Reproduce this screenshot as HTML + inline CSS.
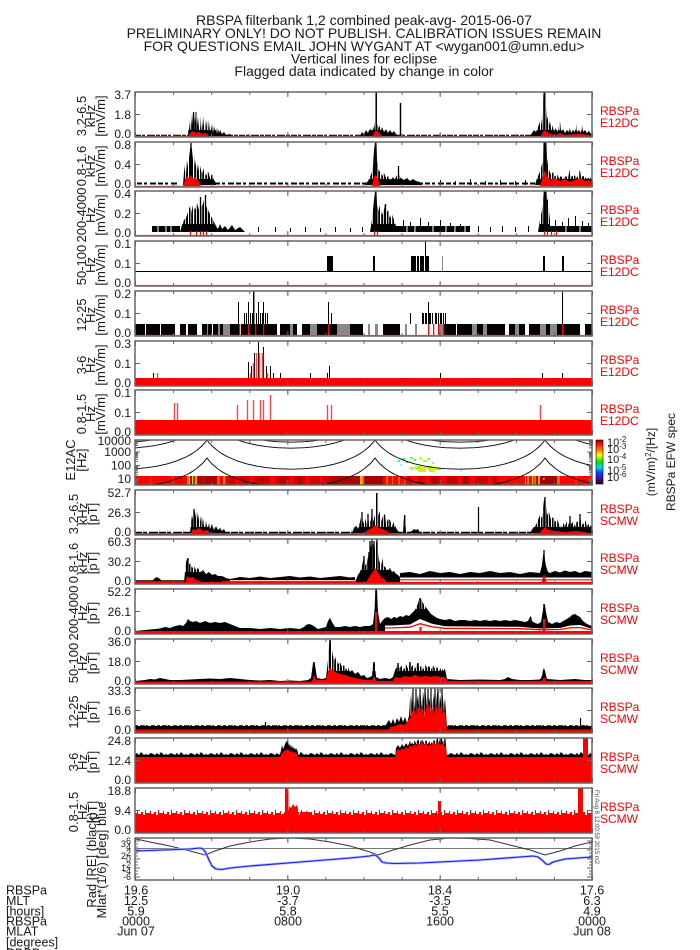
<!DOCTYPE html>
<html><head><meta charset="utf-8"><title>RBSPA filterbank</title>
<style>
html,body{margin:0;padding:0;background:#fff;width:700px;height:950px;overflow:hidden}
svg{display:block}
text{font-family:"Liberation Sans",Arial,sans-serif;fill:#1a1a1a}
.tm{stroke:#666;stroke-width:3;stroke-dasharray:1 37.083;fill:none}
.tM{stroke:#666;stroke-width:5;stroke-dasharray:1 151.333;fill:none}
.fr{fill:none;stroke:#666;stroke-width:1.5}
</style></head><body>
<svg xmlns="http://www.w3.org/2000/svg" xmlns:xlink="http://www.w3.org/1999/xlink" width="700" height="950" viewBox="0 0 700 950">
<defs>
<linearGradient id="cb" x1="0" y1="0" x2="0" y2="1">
<stop offset="0" stop-color="#a00000"/>
<stop offset="0.08" stop-color="#ff0000"/>
<stop offset="0.25" stop-color="#ff9000"/>
<stop offset="0.35" stop-color="#ffff00"/>
<stop offset="0.5" stop-color="#00e000"/>
<stop offset="0.62" stop-color="#00e0e0"/>
<stop offset="0.75" stop-color="#0040ff"/>
<stop offset="0.88" stop-color="#6000a0"/>
<stop offset="1" stop-color="#000000"/>
</linearGradient>
<clipPath id="spc"><rect x="135" y="440" width="457" height="45"/></clipPath>
<clipPath id="orc"><rect x="135" y="838" width="457" height="42"/></clipPath>
<pattern id="pz" x="135" y="750" width="20" height="8" patternUnits="userSpaceOnUse"><path d="M0 8V5L2 3L4 5L6 2L9 5L11 4L13 5L16 3L18 4L20 5V8Z" fill="#000"/></pattern>
<pattern id="pr" x="135" y="810" width="13" height="6" patternUnits="userSpaceOnUse"><path d="M0 6V3H2V1H3V4H6V2H8V5H10V0H11V3H13V6Z" fill="#f00"/></pattern>
<pattern id="comb" x="0" y="0" width="11" height="20" patternUnits="userSpaceOnUse"><rect x="1" y="0" width="1" height="20" fill="#fff"/><rect x="3.5" y="0" width="0.7" height="20" fill="#fff"/><rect x="6" y="0" width="1.2" height="20" fill="#fff"/><rect x="9" y="0" width="0.8" height="20" fill="#fff"/></pattern>
<path id="cB" fill="none" stroke="#000" stroke-width="0.9" d="M135 468.8 L147 467.7 L157 466.2 L167 463.9 L177 460.8 L187 456.5 L192 453.7 L197 450.2 L202 445.9 L205 442.6 L207 440 L209 442.6 L212 445.9 L217 450.2 L222 453.7 L227 456.5 L237 460.8 L247 463.9 L257 466.2 L267 467.7 L277 468.7 L291 469.2 L305 468.7 L315 467.7 L325 466.2 L335 463.9 L345 460.8 L355 456.5 L360 453.7 L365 450.2 L370 445.9 L373 442.6 L375 440 L377 442.6 L380 445.9 L385 450.2 L390 453.7 L395 456.5 L405 460.8 L415 463.9 L425 466.2 L435 467.7 L445 468.7 L460 469.2 L475 468.7 L485 467.7 L495 466.2 L505 463.9 L515 460.8 L525 456.5 L530 453.7 L535 450.2 L540 445.9 L543 442.6 L545 440 L547 442.6 L550 445.9 L555 450.2 L560 453.7 L565 456.5 L575 460.8 L585 463.9 L592 465.5"/>
</defs>
<rect width="700" height="950" fill="#fff"/>

<g font-size="14" text-anchor="middle">
<text x="364" y="25">RBSPA filterbank 1,2 combined peak-avg- 2015-06-07</text>
<text x="364" y="38">PRELIMINARY ONLY! DO NOT PUBLISH. CALIBRATION ISSUES REMAIN</text>
<text x="364" y="51">FOR QUESTIONS EMAIL JOHN WYGANT AT &lt;wygan001@umn.edu&gt;</text>
<text x="364" y="63.5">Vertical lines for eclipse</text>
<text x="364" y="76">Flagged data indicated by change in color</text>
</g>

<!-- ===== Panel 0 : E 3.2-6.5 kHz (92-137) ===== -->
<g>
<path d="M135 136.6H592" stroke="#f55" stroke-width="1.2"/>
<path d="M135 135.3H592" stroke="#000" stroke-width="1.2" stroke-dasharray="6 1 3 2 8 1 4 1"/>
<path fill="#000" d="M188 136 L189 120 L190 130 L191 114 L192 125 L193 112 L194 110 L195 122 L196 112 L197 126 L198 117 L199 128 L200 116 L201 130 L202 118 L203 127 L204 116 L205 131 L206 120 L207 128 L208 119 L209 132 L210 122 L211 130 L212 124 L213 133 L214 126 L215 131 L216 127 L217 134 L218 128 L219 133 L220 130 L222 134 L224 132 L226 135 L230 134 L232 136 Z"/>
<path fill="#000" d="M360 136 L362 132 L364 134 L366 130 L368 133 L370 128 L372 131 L373 126 L374 130 L375 122 L375.5 92.5 L376.8 92.5 L377 124 L379 128 L380 125 L381 130 L382 127 L384 132 L386 129 L388 133 L390 130 L392 133 L394 131 L396 134 L398 136 Z"/>
<path fill="#000" d="M530 136 L532 133 L534 130 L536 132 L538 127 L540 122 L541 118 L542 126 L543 100 L543.5 92.5 L545.5 92.5 L546 106 L547 120 L548 116 L549 125 L550 121 L551 128 L552 125 L554 131 L556 128 L558 132 L560 121 L561 131 L563 129 L565 133 L567 130 L569 132 L570 127 L571 133 L573 130 L575 132 L576 122 L577 132 L579 130 L581 133 L582 125 L583 132 L585 130 L587 133 L589 131 L591 134 L592 136 Z"/>
<rect x="188" y="92" width="45" height="38" fill="url(#comb)"/>
<rect x="360" y="92" width="38" height="38" fill="url(#comb)"/>
<rect x="530" y="92" width="62" height="38" fill="url(#comb)"/>
<path d="M376.2 136V92.5M400.5 136V103" stroke="#000" stroke-width="1.5"/>
<path d="M544.5 136V92.5" stroke="#000" stroke-width="2"/>
<path d="M193.5 136V112M196 136V112" stroke="#000" stroke-width="1"/>
<path fill="#f00" d="M188 137 L190 133 L193 131 L196 133 L199 132 L202 134 L206 133 L210 137 Z M372 137 L375 131 L377 131 L380 134 L383 137 Z M540 137 L543 132 L545 130 L547 132 L550 134 L556 135 L560 133 L565 135 L576 134 L582 134 L590 135 L592 137 Z"/>
</g>

<!-- ===== Panel 1 : E 0.8-1.6 kHz (142-187) ===== -->
<g>
<path d="M135 186.3H592" stroke="#f55" stroke-width="1.2"/>
<path d="M137 183.5H178M215 183.5H592" stroke="#000" stroke-width="2" stroke-dasharray="5 2 3 3 6 2"/>
<path fill="#000" d="M183 185 L184 172 L185 165 L186 175 L187 160 L188 168 L189 158 L190 150 L191 143 L192 150 L193 160 L194 155 L195 166 L196 160 L197 170 L198 164 L199 172 L200 166 L202 174 L204 168 L206 176 L208 171 L210 178 L212 174 L214 180 L216 183 L216 185 Z"/>
<path fill="#000" d="M365 185 L368 181 L370 177 L372 172 L373 166 L374 150 L375 142.5 L376.5 142.5 L377 160 L378 168 L379 172 L380 170 L382 176 L384 173 L386 178 L388 176 L390 180 L392 177 L395 179 L397 175 L398 166 L399 175 L401 178 L404 180 L407 178 L410 181 L413 179 L416 181 L420 182 L422 185 Z"/>
<path fill="#000" d="M535 185 L537 178 L539 174 L541 168 L543 160 L543.5 142.5 L546.5 142.5 L547 158 L548 165 L549 170 L551 175 L553 172 L555 177 L557 174 L559 178 L561 176 L563 179 L566 176 L568 178 L570 169 L571 177 L574 175 L577 178 L580 170 L581 177 L584 176 L587 179 L590 177 L592 180 L592 185 Z"/>
<rect x="183" y="142" width="34" height="37" fill="url(#comb)"/>
<rect x="365" y="142" width="58" height="37" fill="url(#comb)"/>
<rect x="535" y="142" width="57" height="37" fill="url(#comb)"/>
<path d="M375.7 182V142.5M191 182V143M398.5 182V166" stroke="#000" stroke-width="1.3"/>
<path d="M545 182V142.5" stroke="#000" stroke-width="2.5"/>
<path d="M440.5 185V180M455.5 185V181M470.5 185V179M485.5 185V181M500.5 185V180M515.5 185V181M525.5 185V180" stroke="#000" stroke-width="1"/>
<path fill="#f00" d="M183 186 L185 180 L187 176 L189 178 L191 175 L193 179 L195 177 L197 180 L199 182 L201 186 Z M372 186 L374 177 L376 175 L378 178 L380 186 Z M540 186 L543 176 L545 170 L547 176 L550 180 L555 178 L560 181 L565 179 L570 182 L575 180 L580 178 L585 181 L590 180 L592 186 Z"/>
</g>

<!-- ===== Panel 2 : E 200-4000 Hz (191-236) ===== -->
<g>
<path d="M135 235.5H592" stroke="#f55" stroke-width="1.2"/>
<rect x="152" y="226" width="28" height="6" fill="#000"/>
<path d="M158 226V232M166 226V232M171 226V232" stroke="#fff" stroke-width="1"/>
<path fill="#000" d="M180 232 L182 225 L184 220 L186 218 L188 212 L190 206 L191 214 L193 205 L195 210 L197 203 L199 210 L200 197 L201 207 L203 204 L205 195 L206 206 L208 210 L210 214 L212 218 L214 222 L216 226 L218 229 L220 224 L222 229 L225 226 L228 230 L232 225 L235 230 L240 227 L245 232 Z"/>
<path d="M258.5 232V227M275.5 232V227M290.5 232V228M305.5 232V227M320.5 232V228M335.5 232V227M350.5 232V228M362.5 232V227M478.5 232V226M490.5 232V227M502.5 232V226M515.5 232V227M528.5 232V226" stroke="#000" stroke-width="1"/>
<path fill="#000" d="M370 232 L372 220 L374 200 L375 191.5 L376.5 191.5 L377 205 L378 212 L380 205 L382 215 L384 210 L385 204 L386 214 L388 210 L390 218 L392 214 L394 220 L396 226 L396 232 Z"/>
<rect x="396" y="226" width="74" height="6" fill="#000"/>
<path d="M403.5 226V220M410.5 226V222M420.5 226V218M428.5 226V222M440.5 226V220M450.5 226V223M460.5 226V224M555.5 226V220M562.5 226V222M568.5 226V218M575.5 226V216M582.5 226V221M588.5 226V223" stroke="#000" stroke-width="1"/>
<path fill="#000" d="M538 232 L540 220 L542 210 L543.5 195 L544 191.5 L546.5 191.5 L547 200 L548 199 L549 212 L550 220 L550 232 Z"/>
<rect x="550" y="226" width="42" height="6" fill="#000"/>
<rect x="180" y="191" width="66" height="33" fill="url(#comb)"/>
<rect x="370" y="191" width="26" height="33" fill="url(#comb)"/>
<rect x="538" y="191" width="12" height="33" fill="url(#comb)"/>
<path d="M375.7 226V191.5M200.5 226V197M205.5 226V195M385.5 226V204" stroke="#000" stroke-width="1.3"/>
<path d="M545 226V191.5" stroke="#000" stroke-width="2.5"/>
<path d="M407 226V232M415 226V232M433 226V232M446 226V232M455 226V232M465 226V232M566 226V232M580 226V232" stroke="#fff" stroke-width="1"/>
<path d="M190.5 236V231M196.5 236V231M200.5 236V231M203.5 236V231M206.5 236V231M374.5 236V231M377.5 236V231M544.5 236V231M547.5 236V231M551.5 236V231M556.5 236V231" stroke="#f00" stroke-width="1.2"/>
</g>

<!-- ===== Panel 3 : E 50-100 Hz (241-286) ===== -->
<g>
<path d="M135 271.5H592" stroke="#000" stroke-width="1"/>
<path d="M135 285.5H592" stroke="#f66" stroke-width="1.2"/>
<path fill="#000" d="M327 256h6v15h-6zM373 256h2v15h-2zM411 256h5v15h-5zM417 256h2v15h-2zM420 256h4v15h-4zM425 256h4v15h-4zM543 256h2v15h-2zM562 256h2v15h-2z"/>
<path d="M425.5 256V241.5" stroke="#000" stroke-width="1"/>
<path d="M442.5 271V256" stroke="#888" stroke-width="1"/>
</g>

<!-- ===== Panel 4 : E 12-25 Hz (291-336) ===== -->
<g>
<rect x="135" y="324" width="457" height="11" fill="#000"/>
<path fill="#fff" d="M145 324h1v11h-1zM160 324h1v11h-1zM175 324h5v11h-5zM186 324h2v11h-2zM197 324h5v11h-5zM212 324h1v11h-1zM240 324h1v11h-1zM277 324h3v11h-3zM297 324h5v11h-5zM363 324h20v11h-20zM400 324h28v11h-28zM429 324h4v11h-4zM434 324h4v11h-4zM456 324h1v11h-1zM505 324h4v11h-4zM525 324h4v11h-4zM580 324h5v11h-5z"/>
<path fill="#888" d="M207 324h1v11h-1zM218 324h2v11h-2zM223 324h7v11h-7zM290 324h3v11h-3zM310 324h7v11h-7zM337 324h13v11h-13zM368 324h2v11h-2zM375 324h3v11h-3zM405 324h2v11h-2zM415 324h2v11h-2zM439 324h4v11h-4zM472 324h5v11h-5zM483 324h4v11h-4zM515 324h4v11h-4zM540 324h6v11h-6zM550 324h7v11h-7z"/>
<path fill="#f00" d="M239 324h1.3v11h-1.3zM248 324h1.3v11h-1.3zM255 324h1.3v11h-1.3zM263 324h1.3v11h-1.3zM328 324h1.3v11h-1.3zM428 324h1.3v11h-1.3zM433 324h1.3v11h-1.3zM438 324h1.3v11h-1.3zM443 324h1.3v11h-1.3zM562 324h1.3v11h-1.3z"/>
<path d="M238.5 324V302M248.5 324V302M253.5 324V291.5M258.5 324V302M263.5 324V302M328.5 324V302M331.5 324V313M410.5 324V313M428.5 324V302M562.5 324V291.5M244.5 324V313M246.5 324V313M250.5 324V313M252.5 324V313M256.5 324V313M260.5 324V313M262.5 324V313M265.5 324V313M267.5 324V313M422.5 324V313M423.5 324V313M425.5 324V313M426.5 324V313M429.5 324V313M430.5 324V313M432.5 324V313M435.5 324V313M436.5 324V313M438.5 324V313M440.5 324V313M441.5 324V313M443.5 324V313M445.5 324V313" stroke="#000" stroke-width="1"/>
<path d="M254.5 324V291.5" stroke="#888" stroke-width="1"/>
<path d="M135 335.5H592" stroke="#f66" stroke-width="1.2"/>
</g>

<!-- ===== Panel 5 : E 3-6 Hz (341-386) ===== -->
<g>
<rect x="135" y="378" width="457" height="8" fill="#f00"/>
<path d="M153.5 378V373M248.5 378V362M251.5 378V366M254.5 378V353M258.5 378V342M263.5 378V347M266.5 378V366M270.5 378V366M273.5 378V373M280.5 378V373M310.5 378V373M327.5 378V373M329.5 378V366M440.5 378V373M542.5 378V373M562.5 378V373" stroke="#000" stroke-width="1"/>
<path d="M157.5 378V373M250.5 378V373M253.5 378V363M256.5 378V353M259.5 378V353M262.5 378V353M267.5 378V373" stroke="#f44" stroke-width="1.5"/>
</g>

<!-- ===== Panel 6 : E 0.8-1.5 Hz (390-435) ===== -->
<g>
<rect x="135" y="420" width="457" height="15" fill="#f00"/>
<path d="M174.5 420V403M177.5 420V403M237.5 420V405M247.5 420V400M253.5 420V400M260.5 420V400M263.5 420V400M270.5 420V395M327.5 420V405M331.5 420V405M540.5 420V405" stroke="#f44" stroke-width="1.4"/>
</g>

<!-- ===== Panel 7 : spectrogram (440-485) ===== -->
<g clip-path="url(#spc)">
<rect x="135" y="476" width="52" height="9" fill="#ff0000"/>
<rect x="150" y="476" width="1" height="9" fill="#ff4000"/>
<rect x="163" y="476" width="1" height="9" fill="#e00000"/>
<rect x="172" y="476" width="2" height="9" fill="#ff3000"/>
<rect x="180" y="476" width="1" height="9" fill="#d00000"/>
<rect x="187" y="476" width="2" height="9" fill="#ff8000"/>
<rect x="189" y="476" width="1" height="9" fill="#ffd000"/>
<rect x="190" y="476" width="2" height="9" fill="#c00000"/>
<rect x="192" y="476" width="1" height="9" fill="#90ff00"/>
<rect x="193" y="476" width="2" height="9" fill="#ff0000"/>
<rect x="195" y="476" width="2" height="9" fill="#ffb000"/>
<rect x="197" y="476" width="20" height="9" fill="#b00000"/>
<rect x="203" y="476" width="1" height="9" fill="#ff0000"/>
<rect x="217" y="476" width="3" height="9" fill="#ff5000"/>
<rect x="220" y="476" width="3" height="9" fill="#ff0000"/>
<rect x="223" y="476" width="2" height="9" fill="#ff9000"/>
<rect x="225" y="476" width="2" height="9" fill="#ff0000"/>
<rect x="227" y="476" width="103" height="9" fill="#d00000"/>
<rect x="235" y="476" width="4" height="9" fill="#ff0000"/>
<rect x="250" y="476" width="3" height="9" fill="#ff0000"/>
<rect x="260" y="476" width="4" height="9" fill="#b00000"/>
<rect x="270" y="476" width="5" height="9" fill="#ff0000"/>
<rect x="280" y="476" width="5" height="9" fill="#b00000"/>
<rect x="290" y="476" width="3" height="9" fill="#ff0000"/>
<rect x="298" y="476" width="4" height="9" fill="#b00000"/>
<rect x="305" y="476" width="4" height="9" fill="#ff0000"/>
<rect x="320" y="476" width="2" height="9" fill="#ff0000"/>
<rect x="330" y="476" width="30" height="9" fill="#b00000"/>
<rect x="360" y="476" width="1" height="9" fill="#ffd000"/>
<rect x="361" y="476" width="1" height="9" fill="#80ff00"/>
<rect x="362" y="476" width="1" height="9" fill="#ff8000"/>
<rect x="363" y="476" width="1" height="9" fill="#00c0ff"/>
<rect x="364" y="476" width="19" height="9" fill="#a80000"/>
<rect x="383" y="476" width="24" height="9" fill="#ff0000"/>
<rect x="386" y="476" width="2" height="9" fill="#ff6000"/>
<rect x="392" y="476" width="1" height="9" fill="#ff6000"/>
<rect x="398" y="476" width="2" height="9" fill="#ff6000"/>
<rect x="404" y="476" width="1" height="9" fill="#ff6000"/>
<rect x="407" y="476" width="90" height="9" fill="#c80000"/>
<rect x="412" y="476" width="5" height="9" fill="#ff0000"/>
<rect x="425" y="476" width="4" height="9" fill="#ff0000"/>
<rect x="432" y="476" width="4" height="9" fill="#a80000"/>
<rect x="440" y="476" width="6" height="9" fill="#ff0000"/>
<rect x="458" y="476" width="4" height="9" fill="#ff0000"/>
<rect x="463" y="476" width="4" height="9" fill="#a80000"/>
<rect x="470" y="476" width="5" height="9" fill="#ff0000"/>
<rect x="488" y="476" width="4" height="9" fill="#ff0000"/>
<rect x="497" y="476" width="26" height="9" fill="#ff0000"/>
<rect x="523" y="476" width="17" height="9" fill="#ff0000"/>
<rect x="525" y="476" width="1" height="9" fill="#ffd000"/>
<rect x="527" y="476" width="2" height="9" fill="#ff8000"/>
<rect x="532" y="476" width="1" height="9" fill="#ffe000"/>
<rect x="534" y="476" width="2" height="9" fill="#ff6000"/>
<rect x="536" y="476" width="2" height="9" fill="#c00000"/>
<rect x="538" y="476" width="2" height="9" fill="#ffa000"/>
<rect x="540" y="476" width="17" height="9" fill="#a80000"/>
<rect x="557" y="476" width="3" height="9" fill="#ff6000"/>
<rect x="560" y="476" width="32" height="9" fill="#ff0000"/>
<rect x="575" y="476" width="2" height="9" fill="#ff3000"/>
<rect x="410" y="467" width="4" height="3" fill="#c0ff00"/>
<rect x="415" y="466" width="6" height="4" fill="#a0ff20"/>
<rect x="421" y="467" width="5" height="3" fill="#ffe000"/>
<rect x="427" y="466" width="6" height="4" fill="#c0ff00"/>
<rect x="433" y="467" width="4" height="3" fill="#e0ff00"/>
<rect x="438" y="468" width="3" height="2" fill="#80ff40"/>
<rect x="418" y="470" width="8" height="2" fill="#ffe000"/>
<rect x="429" y="470" width="6" height="2" fill="#c0ff00"/>
<rect x="398" y="460" width="2" height="2" fill="#00ffe0"/>
<rect x="402" y="458" width="3" height="2" fill="#40ff80"/>
<rect x="406" y="461" width="2" height="2" fill="#00e0ff"/>
<rect x="410" y="457" width="3" height="2" fill="#80ff40"/>
<rect x="414" y="459" width="2" height="2" fill="#00ffe0"/>
<rect x="419" y="457" width="3" height="3" fill="#e0ff00"/>
<rect x="423" y="460" width="4" height="2" fill="#c0ff00"/>
<rect x="428" y="458" width="2" height="2" fill="#40ff80"/>
<rect x="400" y="464" width="2" height="2" fill="#80ffff"/>
<rect x="432" y="462" width="2" height="2" fill="#80ff80"/>
<rect x="190" y="455" width="1.5" height="1.5" fill="#80ffff"/>
<rect x="257" y="470" width="1.5" height="1.5" fill="#80e0ff"/>
<rect x="330" y="465" width="1.5" height="1.5" fill="#80ffff"/>
<rect x="375" y="452" width="1.5" height="1.5" fill="#c0ffc0"/>
<rect x="543" y="478" width="1.5" height="1.5" fill="#80ffff"/>
<rect x="383" y="468" width="1.5" height="1.5" fill="#80ffe0"/>
<rect x="450" y="462" width="1.5" height="1.5" fill="#a0ffff"/>
<rect x="460" y="470" width="1.5" height="1.5" fill="#80ffff"/>
<use xlink:href="#cB" href="#cB"/>
<use xlink:href="#cB" href="#cB" transform="translate(0,18)"/>
<use xlink:href="#cB" href="#cB" transform="translate(0,-21)"/>
<use xlink:href="#cB" href="#cB" transform="translate(0,-27)"/>
</g>

<!-- ===== Panel 8 : SCMW 3.2-6.5 kHz (490-535) ===== -->
<g>
<path d="M135 532.5H592" stroke="#000" stroke-width="1.5" stroke-dasharray="7 1 4 2 9 1"/>
<path d="M135 534H592" stroke="#f00" stroke-width="1.5"/>
<path fill="#000" d="M190 533 L191 522 L192 515 L193 520 L194 509 L195 512 L196 518 L197 511 L198 520 L199 514 L200 522 L201 516 L202 524 L203 518 L204 526 L205 520 L206 527 L207 521 L208 528 L209 523 L210 529 L212 524 L214 530 L216 526 L218 530 L220 528 L222 531 L224 529 L226 533 Z"/>
<path fill="#000" d="M352 533 L354 528 L356 525 L358 529 L360 522 L362 512 L363 524 L365 518 L367 526 L368 514 L369 524 L371 520 L372 509 L373 522 L375 515 L376 493 L377.5 493 L378 516 L380 511 L381 522 L383 516 L385 514 L386 524 L388 519 L390 520 L392 526 L394 522 L396 528 L398 531 L400 533 L403 533 L404 516 L405.5 515 L406 533 L412 531 L414 529 L416 530 L418 529 L420 533 Z"/>
<path fill="#000" d="M530 533 L533 528 L536 525 L538 520 L540 515 L542 518 L543 508 L544 500 L545 497 L546 505 L547 515 L549 512 L551 520 L553 517 L555 522 L557 519 L559 524 L561 528 L563 523 L565 526 L567 521 L569 525 L570 516 L571 524 L573 522 L575 526 L577 521 L579 524 L580 514 L581 522 L583 525 L585 520 L587 526 L589 524 L592 527 L592 533 Z"/>
<rect x="190" y="490" width="36" height="37" fill="url(#comb)"/>
<rect x="352" y="490" width="68" height="37" fill="url(#comb)"/>
<rect x="530" y="490" width="62" height="37" fill="url(#comb)"/>
<path d="M376.7 531V493M545 531V497M194 531V509M372 531V509M368 531V514M404.7 531V515M580 531V514M570 531V516M362 531V512" stroke="#000" stroke-width="1.3"/>
<path d="M478.5 533V507" stroke="#000" stroke-width="1.2"/>
<path fill="#f00" d="M190 535 L193 529 L196 530 L199 528 L203 531 L207 530 L212 535 Z M362 535 L368 530 L372 528 L376 525 L379 528 L385 530 L392 535 Z M538 535 L542 530 L545 527 L548 530 L555 531 L565 532 L575 531 L585 532 L592 535 Z"/>
</g>

<!-- ===== Panel 9 : SCMW 0.8-1.6 kHz (539-584) ===== -->
<g>
<path d="M135 581H184" stroke="#000" stroke-width="1.5"/>
<path fill="#000" d="M152 581 L155 578 L157 577 L160 579 L162 581 Z"/>
<path fill="#000" d="M184 582 L186 562 L187 559 L188 558 L189 565 L190 563 L192 568 L194 566 L196 570 L198 568 L200 572 L203 570 L206 574 L209 572 L212 575 L215 574 L218 576 L222 576 L226 578 L230 579 L230 582 Z"/>
<path fill="#000" d="M230 580 L230 579 L240 577 L250 578 L260 576.5 L270 578 L280 577 L290 576 L300 577.5 L310 576.5 L320 578 L330 577 L340 576 L350 577.5 L355 577 L355 580 Z"/>
<path fill="#000" d="M355 582 L358 575 L360 572 L362 566 L364 556 L365 566 L367 562 L369 552 L370 541 L371 548 L372 539.5 L373 545 L374 541 L375 550 L376 543 L377 539.5 L378 552 L379 560 L381 566 L383 558 L384 566 L386 568 L388 570 L390 568 L392 572 L394 571 L396 574 L398 575 L400 577 L400 582 Z"/>
<path fill="#000" d="M400 577.5 L400 573 L410 572 L420 574 L430 571 L440 573 L450 572 L460 574 L470 572 L480 573 L490 571 L500 573 L510 572 L520 574 L530 572 L540 573 L542 565 L543 556 L544 550 L545 560 L546 566 L548 572 L550 573 L555 571 L560 572.5 L565 570.5 L570 572 L575 571 L580 573 L585 571 L592 572 L592 577.5 Z"/>
<rect x="184" y="539" width="46" height="33" fill="url(#comb)"/>
<rect x="355" y="539" width="45" height="31" fill="url(#comb)"/>
<path d="M372 578V539.5M377 578V539.5M370 578V541M374 578V541M188 578V558M544 576V550M364 578V556M369 578V552" stroke="#000" stroke-width="1.3"/>
<path d="M222 581.3H355M400 579.8H592" stroke="#f00" stroke-width="1.2"/>
<rect x="135" y="582" width="457" height="2" fill="#f00"/>
<path fill="#f00" d="M365 584 L370 576 L373 572 L375 568 L377 571 L380 576 L385 580 L388 584 Z M185 584 L187 576 L190 578 L193 577 L196 580 L200 581 L202 584 Z M541 584 L544 574 L547 584 Z"/>
</g>

<!-- ===== Panel 10 : SCMW 200-4000 Hz (589-634) ===== -->
<g>
<path fill="#000" d="M135 632 L135 631 L145 630 L155 629 L160 628.5 L165 627 L170 628 L175 626 L180 625 L183 626 L186 623 L188 619 L190 621 L193 622 L196 621 L200 623 L205 621 L210 623 L215 622 L220 623 L225 622 L230 624 L235 626 L240 628 L250 628 L260 629 L270 628 L280 629 L290 628 L300 629 L304 627 L306 625 L309 624 L312 625 L315 627 L318 629 L322 628 L326 627 L328 621 L330 618 L332 622 L335 627 L340 627 L345 626 L350 627 L355 626 L360 627 L365 626 L370 626 L373 624 L374.5 610 L375.5 589.5 L377 589.5 L378 612 L380 624 L383 620 L385 618 L388 617 L391 619 L394 617 L397 618 L400 616 L403 617 L406 615 L409 616 L412 613 L415 610 L417 606 L419 600 L420 598 L421 599 L423 603 L425 606 L428 610 L431 614 L434 616 L437 618 L440 619 L445 620 L450 619 L455 621 L460 620 L465 620 L470 621 L475 620 L480 621 L485 620 L490 621 L495 620 L500 621 L505 620 L510 621 L515 620 L520 621 L525 622 L528 621 L530 617 L531 616 L532 621 L535 623 L538 624 L541 622 L543 610 L544 604 L545 605 L546 612 L548 622 L552 624 L556 622 L560 623 L565 620 L570 617 L572 615 L575 614 L578 616 L580 617 L583 621 L587 624 L592 626 L592 629 L580 625 L570 625.5 L560 628 L540 628.5 L530 627.7 L520 626.8 L445 626.2 L432 623.8 L420 619 L410 624.5 L392 625.5 L385 625.5 L385 632 Z"/>
<rect x="400" y="589" width="40" height="20" fill="url(#comb)"/>
<path d="M376 630V589.5" stroke="#000" stroke-width="1.5"/>
<path d="M420 616V598M544 622V604" stroke="#000" stroke-width="1.5"/>
<path d="M385 628 L392 627.9 L410 627.2 L420 623.7 L432 626.8 L445 628.3 L520 628.7 L530 629.2 L540 629.8 L560 629.5 L572 627.6 L580 627.6 L592 630" fill="none" stroke="#f00" stroke-width="1.3"/>
<rect x="135" y="631" width="457" height="3" fill="#f00"/>
<path d="M376 634V612M544 634V619M420.5 634V627" stroke="#f00" stroke-width="2"/>
</g>

<!-- ===== Panel 11 : SCMW 50-100 Hz (639-684) ===== -->
<g>
<path fill="#000" d="M135 682 L135 681 L145 680 L150 679 L155 679.5 L160 678 L165 679 L170 680 L180 680 L190 679.5 L200 679 L210 678.5 L220 679 L230 678 L240 679 L250 680 L260 680.5 L270 680 L280 681 L290 680.5 L300 681 L308 680 L311 678 L313 663 L314 662 L315 665 L317 678 L322 679 L326 678 L328 660 L329 645 L330 640 L331 641 L332 650 L333 656 L334 661 L336 657 L338 664 L340 662 L342 667 L344 665 L346 670 L348 667 L350 672 L352 670 L355 674 L358 672 L361 676 L364 675 L367 678 L370 677 L372 676 L373 664 L374 662 L375 664 L376 677 L380 679 L385 678 L390 679 L393 677 L395 670 L397 667 L398 663 L399 668 L402 666 L404 670 L406 664 L408 669 L410 662 L411 667 L413 665 L415 669 L417 664 L418 663 L419 668 L421 666 L423 670 L425 664 L427 668 L429 666 L431 670 L433 665 L435 669 L437 667 L439 671 L441 668 L443 670 L445 669 L447 679 L460 680 L480 679.5 L500 680 L505 679 L508 677 L512 679 L520 680 L530 680 L540 679.5 L542 676 L543 670 L544 668 L545 671 L547 679 L560 680 L575 679 L585 680 L592 680 L592 682 Z"/>
<rect x="326" y="639" width="121" height="32" fill="url(#comb)"/>
<path d="M330 678V640M314 678V662M374 678V662M398 676V663M410 676V662M418 676V663" stroke="#000" stroke-width="1.5"/>
<path fill="#f00" d="M135 684 L135 681.5 L312 681.5 L313 678 L314 675 L316 680 L326 680 L328 672 L330 667 L332 670 L335 672 L340 674 L345 675 L350 677 L355 678 L365 680 L372 680 L374 676 L376 681 L393 681 L395 677 L400 678 L405 676 L410 677 L415 675 L420 677 L425 676 L430 677 L435 676 L440 677 L445 677 L447 681 L542 681 L544 677 L546 681 L592 681 L592 684 Z"/>
</g>

<!-- ===== Panel 12 : SCMW 12-25 Hz (688-733) ===== -->
<g>
<rect x="135" y="726" width="457" height="4" fill="#000"/>
<path d="M135 726H592" stroke="#000" stroke-width="1.5" stroke-dasharray="3 2 5 1 2 3 4 2"/>
<path fill="#000" d="M385 730 L385 727 L387 723 L389 720 L391 724 L393 719 L395 724 L397 718 L399 722 L401 716 L403 722 L405 717 L407 723 L409 716 L410 700 L411 690 L412 705 L413 688.5 L414 698 L415 710 L416 689 L417 702 L418 694 L419 706 L420 688.5 L421 699 L422 712 L423 691 L424 700 L425 688.5 L426 696 L427 708 L428 689 L429 703 L430 697 L431 688.5 L432 707 L433 693 L434 700 L435 688.5 L436 705 L437 694 L438 689 L439 710 L440 695 L441 702 L442 688.5 L443 700 L444 708 L445 698 L446 713 L447 727 L447 730 Z"/>
<rect x="387" y="688" width="60" height="28" fill="url(#comb)"/>
<path d="M413 716V688.5M420 716V688.5M425 716V688.5M431 716V688.5M435 716V688.5M438 716V689M442 716V688.5M416 716V689M428 716V689" stroke="#000" stroke-width="1.2"/>
<path d="M580.5 727V718M265.5 727V722" stroke="#000" stroke-width="1.2"/>
<rect x="135" y="729.5" width="457" height="3.5" fill="#f00"/>
<path fill="#f00" d="M387 733 L390 727 L395 726 L400 724 L405 725 L410 718 L412 712 L414 708 L416 715 L418 706 L420 712 L422 705 L424 716 L426 708 L428 702 L430 712 L432 706 L434 715 L436 704 L438 710 L440 706 L442 714 L444 709 L446 718 L447 733 Z"/>
</g>

<!-- ===== Panel 13 : SCMW 3-6 Hz (738-783) ===== -->
<g>
<rect x="135" y="750" width="457" height="8" fill="url(#pz)"/>
<rect x="135" y="757" width="457" height="26" fill="#f00"/>
<path fill="#000" d="M280 757 L281 750 L282 745 L283 749 L284 747 L285 744 L286 742 L287 741 L288 741.5 L289 746 L290 744 L291 748 L292 745 L293 749 L294 747 L295 750 L296 748 L298 752 L298 757 Z"/>
<path fill="#f00" d="M280 757.5 L282 753 L284 751 L286 750 L288 749 L290 752 L292 751 L294 753 L296 752 L298 756 L298 757.5 Z"/>
<path fill="#000" d="M395 757 L396 748 L398 745 L400 748 L402 744 L404 747 L406 743 L408 746 L410 741 L412 744 L414 740 L416 743 L418 739.5 L420 742 L422 739 L424 743 L426 740 L428 744 L430 741 L432 743 L434 740 L436 742 L437 738.5 L439 741 L441 738.5 L443 742 L445 738.5 L446 745 L447 757 Z"/>
<rect x="395" y="738" width="52" height="6" fill="url(#comb)"/>
<path d="M437.5 746V738.5M441.5 746V738.5M445 746V738.5" stroke="#000" stroke-width="1.2"/>
<path fill="#f00" d="M395 757.5 L396 752 L398 749 L400 751 L402 748 L404 750 L406 747 L408 749 L410 745 L412 747 L414 744 L416 746 L418 743 L420 745 L422 742 L424 745 L426 743 L428 746 L430 744 L432 745 L434 742 L436 744 L438 742 L440 745 L442 743 L444 745 L446 748 L447 757.5 Z"/>
<rect x="583" y="738.5" width="5" height="20" fill="#f00"/>
</g>

<!-- ===== Panel 14 : SCMW 0.8-1.5 Hz (788-833) ===== -->
<g>
<rect x="135" y="810" width="457" height="6" fill="url(#pr)"/>
<rect x="135" y="816" width="457" height="17" fill="#f00"/>
<rect x="285" y="788.5" width="3.5" height="28" fill="#f00"/>
<path fill="#f00" d="M289 816 L289 806 L291 808 L293 804 L295 807 L297 805 L298 809 L298 816 Z"/>
<rect x="300" y="812" width="10" height="4" fill="#f00"/>
<rect x="438" y="801" width="3" height="15" fill="#f00"/>
<rect x="578" y="788.5" width="5" height="28" fill="#f00"/>
</g>

<!-- ===== Panel 15 : orbit (838-880) ===== -->
<g clip-path="url(#orc)">
<path d="M135 848.5H592" stroke="#777" stroke-width="1"/>
<path d="M136 839 L150 842 L170 846 L190 851 L205 855 L215 851 L230 846 L250 842 L270 839 L290 838 L310 839 L330 842 L350 846 L370 852 L378 855 L390 851 L410 845 L430 840 L450 838 L470 838.5 L490 840 L510 845 L530 850 L545 855 L560 851 L575 846 L592 842" fill="none" stroke="#333" stroke-width="1"/>
<path d="M136 851 L190 849 L200 848 L203 849 L206 853 L209 860 L212 866 L216 869 L222 869.5 L230 868 L250 866 L300 862 L350 858 L370 856 L373 855 L376 855.5 L379 858 L382 862 L386 863 L395 863.5 L420 863 L480 860 L520 857 L533 856 L538 857 L542 860 L546 864 L549 864.5 L553 862 L565 859 L592 857" fill="none" stroke="#b8b8ff" stroke-width="2.6" stroke-linejoin="round"/>
<path d="M136 851 L190 849 L200 848 L203 849 L206 853 L209 860 L212 866 L216 869 L222 869.5 L230 868 L250 866 L300 862 L350 858 L370 856 L373 855 L376 855.5 L379 858 L382 862 L386 863 L395 863.5 L420 863 L480 860 L520 857 L533 856 L538 857 L542 860 L546 864 L549 864.5 L553 862 L565 859 L592 857" fill="none" stroke="#1020ff" stroke-width="1.1" stroke-linejoin="round"/>
</g>

<!-- ===== Frames ===== -->
<g class="fr">
<rect class="fr" x="135" y="92" width="457" height="45"/>
<rect class="fr" x="135" y="142" width="457" height="45"/>
<rect class="fr" x="135" y="191" width="457" height="45"/>
<rect class="fr" x="135" y="241" width="457" height="45"/>
<rect class="fr" x="135" y="291" width="457" height="45"/>
<rect class="fr" x="135" y="341" width="457" height="45"/>
<rect class="fr" x="135" y="390" width="457" height="45"/>
<rect class="fr" x="135" y="440" width="457" height="45"/>
<rect class="fr" x="135" y="490" width="457" height="45"/>
<rect class="fr" x="135" y="539" width="457" height="45"/>
<rect class="fr" x="135" y="589" width="457" height="45"/>
<rect class="fr" x="135" y="639" width="457" height="45"/>
<rect class="fr" x="135" y="688" width="457" height="45"/>
<rect class="fr" x="135" y="738" width="457" height="45"/>
<rect class="fr" x="135" y="788" width="457" height="45"/>
<rect class="fr" x="135" y="838" width="457" height="42"/>
</g>

<!-- ===== X ticks ===== -->
<g>
<line class="tm" x1="135" x2="592" y1="93.5" y2="93.5"/><line class="tm" x1="135" x2="592" y1="135.5" y2="135.5"/>
<line class="tm" x1="135" x2="592" y1="143.5" y2="143.5"/><line class="tm" x1="135" x2="592" y1="185.5" y2="185.5"/>
<line class="tm" x1="135" x2="592" y1="192.5" y2="192.5"/><line class="tm" x1="135" x2="592" y1="234.5" y2="234.5"/>
<line class="tm" x1="135" x2="592" y1="242.5" y2="242.5"/><line class="tm" x1="135" x2="592" y1="284.5" y2="284.5"/>
<line class="tm" x1="135" x2="592" y1="292.5" y2="292.5"/><line class="tm" x1="135" x2="592" y1="334.5" y2="334.5"/>
<line class="tm" x1="135" x2="592" y1="342.5" y2="342.5"/><line class="tm" x1="135" x2="592" y1="384.5" y2="384.5"/>
<line class="tm" x1="135" x2="592" y1="391.5" y2="391.5"/><line class="tm" x1="135" x2="592" y1="433.5" y2="433.5"/>
<line class="tm" x1="135" x2="592" y1="441.5" y2="441.5"/><line class="tm" x1="135" x2="592" y1="483.5" y2="483.5"/>
<line class="tm" x1="135" x2="592" y1="491.5" y2="491.5"/><line class="tm" x1="135" x2="592" y1="533.5" y2="533.5"/>
<line class="tm" x1="135" x2="592" y1="540.5" y2="540.5"/><line class="tm" x1="135" x2="592" y1="582.5" y2="582.5"/>
<line class="tm" x1="135" x2="592" y1="590.5" y2="590.5"/><line class="tm" x1="135" x2="592" y1="632.5" y2="632.5"/>
<line class="tm" x1="135" x2="592" y1="640.5" y2="640.5"/><line class="tm" x1="135" x2="592" y1="682.5" y2="682.5"/>
<line class="tm" x1="135" x2="592" y1="689.5" y2="689.5"/><line class="tm" x1="135" x2="592" y1="731.5" y2="731.5"/>
<line class="tm" x1="135" x2="592" y1="739.5" y2="739.5"/><line class="tm" x1="135" x2="592" y1="781.5" y2="781.5"/>
<line class="tm" x1="135" x2="592" y1="789.5" y2="789.5"/><line class="tm" x1="135" x2="592" y1="831.5" y2="831.5"/>
<line class="tm" x1="135" x2="592" y1="839.5" y2="839.5"/><line class="tm" x1="135" x2="592" y1="878.5" y2="878.5"/>
<line class="tM" x1="135" x2="593" y1="94.5" y2="94.5"/><line class="tM" x1="135" x2="593" y1="134.5" y2="134.5"/>
<line class="tM" x1="135" x2="593" y1="144.5" y2="144.5"/><line class="tM" x1="135" x2="593" y1="184.5" y2="184.5"/>
<line class="tM" x1="135" x2="593" y1="193.5" y2="193.5"/><line class="tM" x1="135" x2="593" y1="233.5" y2="233.5"/>
<line class="tM" x1="135" x2="593" y1="243.5" y2="243.5"/><line class="tM" x1="135" x2="593" y1="283.5" y2="283.5"/>
<line class="tM" x1="135" x2="593" y1="293.5" y2="293.5"/><line class="tM" x1="135" x2="593" y1="333.5" y2="333.5"/>
<line class="tM" x1="135" x2="593" y1="343.5" y2="343.5"/><line class="tM" x1="135" x2="593" y1="383.5" y2="383.5"/>
<line class="tM" x1="135" x2="593" y1="392.5" y2="392.5"/><line class="tM" x1="135" x2="593" y1="432.5" y2="432.5"/>
<line class="tM" x1="135" x2="593" y1="442.5" y2="442.5"/><line class="tM" x1="135" x2="593" y1="482.5" y2="482.5"/>
<line class="tM" x1="135" x2="593" y1="492.5" y2="492.5"/><line class="tM" x1="135" x2="593" y1="532.5" y2="532.5"/>
<line class="tM" x1="135" x2="593" y1="541.5" y2="541.5"/><line class="tM" x1="135" x2="593" y1="581.5" y2="581.5"/>
<line class="tM" x1="135" x2="593" y1="591.5" y2="591.5"/><line class="tM" x1="135" x2="593" y1="631.5" y2="631.5"/>
<line class="tM" x1="135" x2="593" y1="641.5" y2="641.5"/><line class="tM" x1="135" x2="593" y1="681.5" y2="681.5"/>
<line class="tM" x1="135" x2="593" y1="690.5" y2="690.5"/><line class="tM" x1="135" x2="593" y1="730.5" y2="730.5"/>
<line class="tM" x1="135" x2="593" y1="740.5" y2="740.5"/><line class="tM" x1="135" x2="593" y1="780.5" y2="780.5"/>
<line class="tM" x1="135" x2="593" y1="790.5" y2="790.5"/><line class="tM" x1="135" x2="593" y1="830.5" y2="830.5"/>
<line class="tM" x1="135" x2="593" y1="840.5" y2="840.5"/><line class="tM" x1="135" x2="593" y1="877.5" y2="877.5"/>
</g>
<!-- Y ticks -->
<path fill="none" stroke="#666" stroke-width="1" d="M135 114.5h5M592 114.5h-5M135 164.5h5M592 164.5h-5M135 213.5h5M592 213.5h-5M135 263.5h5M592 263.5h-5M135 313.5h5M592 313.5h-5M135 363.5h5M592 363.5h-5M135 412.5h5M592 412.5h-5M135 512.5h5M592 512.5h-5M135 561.5h5M592 561.5h-5M135 611.5h5M592 611.5h-5M135 661.5h5M592 661.5h-5M135 710.5h5M592 710.5h-5M135 760.5h5M592 760.5h-5M135 810.5h5M592 810.5h-5"/>
<path fill="none" stroke="#666" stroke-width="1" d="M135 483.1h3M135 482h3M135 481.1h3M135 480.3h3M135 479.6h3M135 479h5M135 474.9h3M135 472.6h3M135 470.9h3M135 469.6h3M135 468.5h3M135 467.6h3M135 466.8h3M135 466.1h3M135 465.5h5M135 461.4h3M135 459.1h3M135 457.4h3M135 456.1h3M135 455h3M135 454.1h3M135 453.3h3M135 452.6h3M135 452h5M135 447.9h3M135 445.6h3M135 443.9h3M135 442.6h3M135 441.5h3M135 440.6h3M592 483.1h-3M592 482h-3M592 481.1h-3M592 480.3h-3M592 479.6h-3M592 479h-5M592 474.9h-3M592 472.6h-3M592 470.9h-3M592 469.6h-3M592 468.5h-3M592 467.6h-3M592 466.8h-3M592 466.1h-3M592 465.5h-5M592 461.4h-3M592 459.1h-3M592 457.4h-3M592 456.1h-3M592 455h-3M592 454.1h-3M592 453.3h-3M592 452.6h-3M592 452h-5M592 447.9h-3M592 445.6h-3M592 443.9h-3M592 442.6h-3M592 441.5h-3M592 440.6h-3"/>
<path fill="none" stroke="#666" stroke-width="1" d="M135 841h5M135 844h3M135 847h3M135 850h5M135 853h3M135 856h3M135 859h5M135 862h3M135 865h3M135 868h5M135 871h3M135 874h3M135 877h5M592 841h-5M592 844h-3M592 847h-3M592 850h-5M592 853h-3M592 856h-3M592 859h-5M592 862h-3M592 865h-3M592 868h-5M592 871h-3M592 874h-3M592 877h-5"/>

<!-- y tick labels -->
<g font-size="12" text-anchor="end">
<text x="131" y="99">3.7</text><text x="131" y="119">1.8</text><text x="131" y="138">0.0</text>
<text x="131" y="149">0.8</text><text x="131" y="169">0.4</text><text x="131" y="188">0.0</text>
<text x="131" y="198">0.4</text><text x="131" y="218">0.2</text><text x="131" y="237">0.0</text>
<text x="131" y="248">0.1</text><text x="131" y="268">0.1</text><text x="131" y="287">0.0</text>
<text x="131" y="298">0.2</text><text x="131" y="318">0.1</text><text x="131" y="337">0.0</text>
<text x="131" y="348">0.3</text><text x="131" y="368">0.1</text><text x="131" y="387">0.0</text>
<text x="131" y="397">0.1</text><text x="131" y="417">0.1</text><text x="131" y="436">0.0</text>
<text x="131" y="445">10000</text><text x="131" y="456">1000</text><text x="131" y="469.5">100</text><text x="131" y="483">10</text>
<text x="131" y="497">52.7</text><text x="131" y="517">26.3</text><text x="131" y="536">0.0</text>
<text x="131" y="546">60.3</text><text x="131" y="566">30.2</text><text x="131" y="585">0.0</text>
<text x="131" y="596">52.2</text><text x="131" y="616">26.1</text><text x="131" y="635">0.0</text>
<text x="131" y="646">36.0</text><text x="131" y="666">18.0</text><text x="131" y="685">0.0</text>
<text x="131" y="695">33.3</text><text x="131" y="715">16.6</text><text x="131" y="734">0.0</text>
<text x="131" y="745">24.8</text><text x="131" y="765">12.4</text><text x="131" y="784">0.0</text>
<text x="131" y="795">18.8</text><text x="131" y="815">9.4</text><text x="131" y="834">0.0</text>
</g>
<g font-size="9" text-anchor="end">
<text x="131" y="844">6</text><text x="131" y="850">4</text><text x="131" y="856">2</text><text x="131" y="862">0</text><text x="131" y="868">-2</text><text x="131" y="874">-4</text><text x="131" y="880">-6</text>
<text x="126" y="847">3</text><text x="126" y="859">2</text><text x="126" y="871">1</text>
</g>

<!-- rotated y titles -->
<g font-size="13" text-anchor="middle">
<text transform="translate(86,116) rotate(-90)">3.2-6.5</text><text transform="translate(95,116) rotate(-90)">kHz</text><text transform="translate(105,116) rotate(-90)">[mV/m]</text>
<text transform="translate(86,166) rotate(-90)">0.8-1.6</text><text transform="translate(95,166) rotate(-90)">kHz</text><text transform="translate(105,166) rotate(-90)">[mV/m]</text>
<text transform="translate(86,215) rotate(-90)">200-4000</text><text transform="translate(95,215) rotate(-90)">Hz</text><text transform="translate(105,215) rotate(-90)">[mV/m]</text>
<text transform="translate(86,265) rotate(-90)">50-100</text><text transform="translate(95,265) rotate(-90)">Hz</text><text transform="translate(105,265) rotate(-90)">[mV/m]</text>
<text transform="translate(86,315) rotate(-90)">12-25</text><text transform="translate(95,315) rotate(-90)">Hz</text><text transform="translate(105,315) rotate(-90)">[mV/m]</text>
<text transform="translate(86,365) rotate(-90)">3-6</text><text transform="translate(95,365) rotate(-90)">Hz</text><text transform="translate(105,365) rotate(-90)">[mV/m]</text>
<text transform="translate(86,414) rotate(-90)">0.8-1.5</text><text transform="translate(95,414) rotate(-90)">Hz</text><text transform="translate(105,414) rotate(-90)">[mV/m]</text>
<text transform="translate(75,460) rotate(-90)">E12AC</text><text transform="translate(86,460) rotate(-90)">[Hz]</text>
<text transform="translate(78,514) rotate(-90)">3.2-6.5</text><text transform="translate(87,514) rotate(-90)">kHz</text><text transform="translate(97,514) rotate(-90)">[pT]</text>
<text transform="translate(78,563) rotate(-90)">0.8-1.6</text><text transform="translate(87,563) rotate(-90)">kHz</text><text transform="translate(97,563) rotate(-90)">[pT]</text>
<text transform="translate(78,613) rotate(-90)">200-4000</text><text transform="translate(87,613) rotate(-90)">Hz</text><text transform="translate(97,613) rotate(-90)">[pT]</text>
<text transform="translate(78,663) rotate(-90)">50-100</text><text transform="translate(87,663) rotate(-90)">Hz</text><text transform="translate(97,663) rotate(-90)">[pT]</text>
<text transform="translate(78,712) rotate(-90)">12-25</text><text transform="translate(87,712) rotate(-90)">Hz</text><text transform="translate(97,712) rotate(-90)">[pT]</text>
<text transform="translate(78,762) rotate(-90)">3-6</text><text transform="translate(87,762) rotate(-90)">Hz</text><text transform="translate(97,762) rotate(-90)">[pT]</text>
<text transform="translate(78,812) rotate(-90)">0.8-1.5</text><text transform="translate(87,812) rotate(-90)">Hz</text><text transform="translate(97,812) rotate(-90)">[pT]</text>
<text transform="translate(96,860) rotate(-90)">Rad [RE] (black)</text>
<text transform="translate(106,860) rotate(-90)">Mlat*(1/6) [deg] blue</text>
</g>

<!-- right red labels -->
<g font-size="12">
<text x="600" y="115" style="fill:#f00">RBSPa</text><text x="600" y="127" style="fill:#f00">E12DC</text>
<text x="600" y="165" style="fill:#f00">RBSPa</text><text x="600" y="177" style="fill:#f00">E12DC</text>
<text x="600" y="214" style="fill:#f00">RBSPa</text><text x="600" y="226" style="fill:#f00">E12DC</text>
<text x="600" y="264" style="fill:#f00">RBSPa</text><text x="600" y="276" style="fill:#f00">E12DC</text>
<text x="600" y="314" style="fill:#f00">RBSPa</text><text x="600" y="326" style="fill:#f00">E12DC</text>
<text x="600" y="364" style="fill:#f00">RBSPa</text><text x="600" y="376" style="fill:#f00">E12DC</text>
<text x="600" y="413" style="fill:#f00">RBSPa</text><text x="600" y="425" style="fill:#f00">E12DC</text>
<text x="600" y="513" style="fill:#f00">RBSPa</text><text x="600" y="525" style="fill:#f00">SCMW</text>
<text x="600" y="562" style="fill:#f00">RBSPa</text><text x="600" y="574" style="fill:#f00">SCMW</text>
<text x="600" y="612" style="fill:#f00">RBSPa</text><text x="600" y="624" style="fill:#f00">SCMW</text>
<text x="600" y="662" style="fill:#f00">RBSPa</text><text x="600" y="674" style="fill:#f00">SCMW</text>
<text x="600" y="711" style="fill:#f00">RBSPa</text><text x="600" y="723" style="fill:#f00">SCMW</text>
<text x="600" y="761" style="fill:#f00">RBSPa</text><text x="600" y="773" style="fill:#f00">SCMW</text>
<text x="600" y="811" style="fill:#f00">RBSPa</text><text x="600" y="823" style="fill:#f00">SCMW</text>
</g>

<!-- colorbar -->
<rect x="596" y="440" width="7" height="44" fill="url(#cb)" stroke="#000" stroke-width="0.6"/>
<g font-size="11">
<text x="607" y="446">10<tspan font-size="8" dy="-4">-2</tspan></text>
<text x="607" y="453">10<tspan font-size="8" dy="-4">-3</tspan></text>
<text x="607" y="463">10<tspan font-size="8" dy="-4">-4</tspan></text>
<text x="607" y="474">10<tspan font-size="8" dy="-4">-5</tspan></text>
<text x="607" y="481">10<tspan font-size="8" dy="-4">-6</tspan></text>
</g>
<g font-size="12" text-anchor="middle">
<text transform="translate(655,462) rotate(-90)">(mV/m)<tspan font-size="8" dy="-4">2</tspan><tspan dy="4">/[Hz]</tspan></text>
<text transform="translate(675,462) rotate(-90)">RBSPa EFW spec</text>
</g>
<text transform="translate(595,790) rotate(90)" font-size="6" style="fill:#444">Fri Aug  8 12:00:59 2015 rx2</text>

<!-- bottom labels -->
<g font-size="12.5">
<text x="6" y="894.5">RBSPa</text>
<text x="6" y="905">MLT</text>
<text x="6" y="915.5">[hours]</text>
<text x="6" y="925.5">RBSPa</text>
<text x="6" y="935.5">MLAT</text>
<text x="6" y="946.5">[degrees]</text>
<text x="6" y="957.5">RBSPa</text>
</g>
<g font-size="12.5" text-anchor="middle">
<text x="136" y="894.5">19.6</text><text x="136" y="905">12.5</text><text x="136" y="915.5">5.9</text><text x="136" y="925.5">0000</text><text x="136" y="935.5">Jun 07</text>
<text x="288" y="894.5">19.0</text><text x="288" y="905">-3.7</text><text x="288" y="915.5">5.8</text><text x="288" y="925.5">0800</text>
<text x="440" y="894.5">18.4</text><text x="440" y="905">-3.5</text><text x="440" y="915.5">5.5</text><text x="440" y="925.5">1600</text>
<text x="592" y="894.5">17.6</text><text x="592" y="905">6.3</text><text x="592" y="915.5">4.9</text><text x="592" y="925.5">0000</text><text x="592" y="935.5">Jun 08</text>
</g>
</svg>
</body></html>
